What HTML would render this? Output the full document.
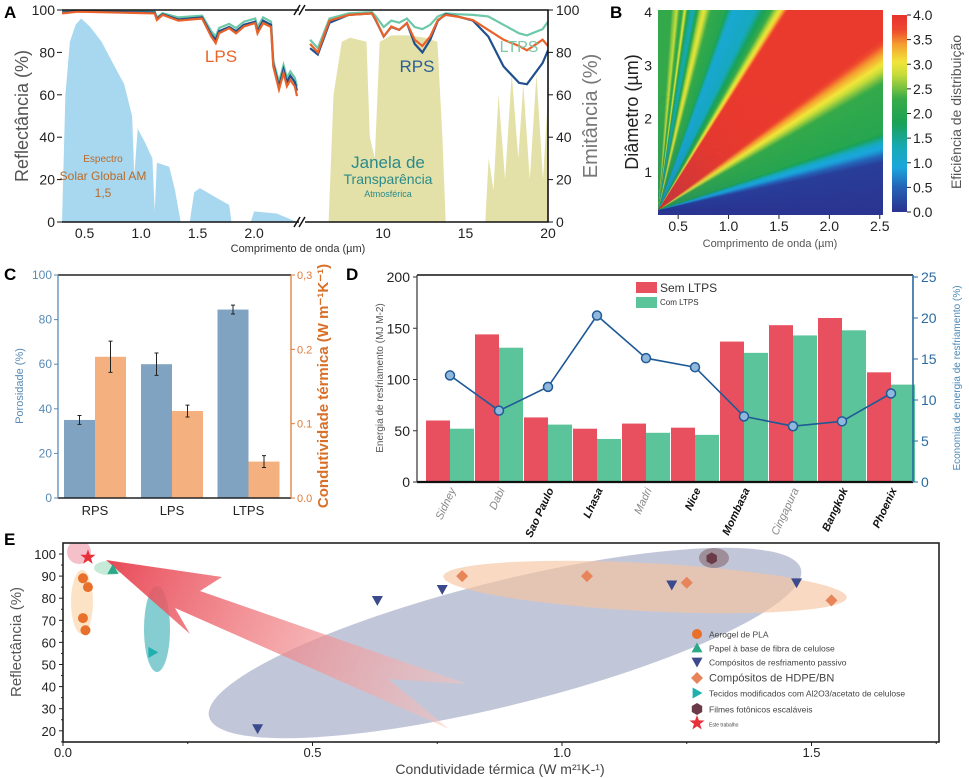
<!DOCTYPE html>
<html><head><meta charset="utf-8">
<style>
body{margin:0;background:#fff;}
#wrap{position:relative;width:969px;height:778px;overflow:hidden;font-family:"Liberation Sans",sans-serif;}
svg{position:absolute;left:0;top:0;}
canvas{position:absolute;}
</style></head>
<body>
<div id="wrap">
<canvas id="cbar" width="15" height="197" style="left:892px;top:15px"></canvas>
<svg id="s" width="969" height="778" xmlns="http://www.w3.org/2000/svg" font-family="Liberation Sans, sans-serif">
<defs>
<clipPath id="clipL"><rect x="62" y="8" width="237" height="216"/></clipPath>
<clipPath id="clipR"><rect x="305" y="8" width="243" height="216"/></clipPath>
<clipPath id="clipB"><rect x="658" y="10" width="225" height="205"/></clipPath>
<clipPath id="clipE"><rect x="63" y="543" width="876" height="199"/></clipPath>
<linearGradient id="arrowGrad" x1="106" y1="560" x2="460" y2="710" gradientUnits="userSpaceOnUse">
<stop offset="0" stop-color="#e8404f" stop-opacity="0.95"/><stop offset="1" stop-color="#f8c8c0" stop-opacity="0.5"/></linearGradient>
</defs>
<g id="gA"></g>
<g id="gB"></g>
<g id="gC"></g>
<g id="gD"></g>
<g id="gE"></g>
<text x="4" y="18" font-size="17" font-weight="bold">A</text>
<text x="610" y="18" font-size="17" font-weight="bold">B</text>
<text x="4" y="280" font-size="17" font-weight="bold">C</text>
<text x="346" y="280" font-size="17" font-weight="bold">D</text>
<text x="4" y="545" font-size="17" font-weight="bold">E</text>
</svg>
</div>
<script>
// ---------- Panel A data ----------
const wlL=[0.30,0.44,1.12,1.14,1.19,1.33,1.54,1.62,1.66,1.69,1.78,1.84,1.91,2.01,2.03,2.08,2.15,2.17,2.22,2.26,2.29,2.32,2.36,2.38];
const lpsL=[98.4,99.2,98.4,95.3,97.7,95,96,87.5,84.4,89,91.4,89,92.2,93.8,89,93.8,92,73.4,62.5,70.3,64,67,64,59.4];
const rpsL=[98.8,99.4,98.8,95.8,98,95.5,96.5,88.5,86,90,92,90,93,94.5,90,95,93,74.5,64,72,66,69,66,62];
const ltpsL=[99.3,99.7,99.2,96.5,98.5,96.5,97.3,90,87.5,91.5,93.5,91.5,94.5,96,92,96.5,94.5,76,66,74,68,71,68,64];
const wlR=[5.58,6.05,6.76,7.93,9.33,9.57,10.04,10.5,10.98,11.45,11.92,12.39,12.86,13.33,13.8,14.5,15.45,16.38,17.3,18.25,18.73,19.67,20];
const lpsR=[84,80,95,97.7,98.4,95.3,87.5,92.2,90.6,93.8,86,83,87.5,95.3,97.7,96.9,95.3,90.6,86,83,81,86,83];
const rpsR=[82,79,94,97.7,98.4,95,87.5,92,90.6,93.8,84,80,86,95,98,97,95,87.5,73.4,65.6,65,75,81];
const ltpsR=[86,82,96,98.4,99,97,92,95,94,96,92,91,93,97,98.4,98,97.7,97,93,89,88,91,94.5];
const solarWl=[0.30,0.33,0.37,0.42,0.47,0.55,0.65,0.75,0.85,0.92,0.94,0.97,1.03,1.10,1.12,1.14,1.25,1.30,1.35,1.43,1.47,1.52,1.65,1.78,1.80,1.97,2.00,2.20,2.38];
const solarVal=[0,60,85,93,96,92,85,75,65,50,22,44,38,30,5,28,26,15,0,0,14,16,12,8,0,0,5,4,0];
const atmWl=[6.7,7.0,7.5,8.0,8.5,9.0,9.2,9.5,9.8,10.5,11.5,12.5,13.3,13.6,13.8,16.2,16.4,16.7,17.0,17.4,17.8,18.2,18.5,18.9,19.3,19.7,20];
const atmVal=[0,60,85,87,86,85,40,30,85,88,88,87,85,40,0,0,30,15,60,20,70,30,65,20,70,20,60];
const tickA=[0,20,40,60,80,100];
const xTickL=[0.5,1.0,1.5,2.0];
const xTickR=[10,15,20];
// ---------- Panel B data ----------
const ratioBreaks=[0,0.4,0.5,0.55,0.65,1.05,1.22,1.45,2.9,3.1,3.4,3.9,5.0,5.6,7.0,8.2,9.2,10.5,12,14,16,20,30];
const effValues=[0,0.1,0.8,1.0,2.0,2.2,3.0,3.9,3.9,3.0,2.1,1.2,1.0,2.0,2.2,3.0,2.5,1.3,1.5,3.0,2.0,2.8,2.2];
const fanOriginWl=0.3;
const fanOriginD=0.28;
const cmapV=[0,0.5,0.9,1.3,1.8,2.3,2.8,3.05,3.4,3.7,4.0];
const cmapC=["#2a3591","#2563b8","#1aa7dc","#17a9b8","#1aa256","#3aab48","#c8dc3a","#f1e53a","#f5a030","#ee4a2e","#e8322e"];
const bXTicks=[0.5,1.0,1.5,2.0,2.5];
const bYTicks=[1,2,3,4];
const cbTicks=[0.0,0.5,1.0,1.5,2.0,2.5,3.0,3.5,4.0];
// ---------- Panel C data ----------
const cCats=["RPS","LPS","LTPS"];
const porosity=[35,60,84.5];
const porosityErr=[2,5,2];
const conductivity=[0.19,0.117,0.049];
const conductivityErr=[0.021,0.008,0.008];
// ---------- Panel D data ----------
const cities=["Sidney","Dabi","Sao Paulo","Lhasa","Madri","Nice","Mombasa","Cingapura","Bangkok","Phoenix"];
const cityBold=[false,false,true,true,false,true,true,false,true,true];
const semLTPS=[60,144,63,52,57,53,137,153,160,107];
const comLTPS=[52,131,56,42,48,46,126,143,148,95];
const savings=[13,8.7,11.6,20.3,15.1,14,8,6.8,7.4,10.8];
const dLeftTicks=[0,50,100,150,200];
const dRightTicks=[0,5,10,15,20,25];
// ---------- Panel E data ----------
const aerogelX=[0.04,0.05,0.04,0.045];
const aerogelY=[89,85,71,65.5];
const papelX=[0.1];
const papelY=[93];
const passivoX=[0.39,0.63,0.76,1.22,1.47];
const passivoY=[21,79,84,86,87];
const hdpeX=[0.8,1.05,1.25,1.54];
const hdpeY=[90,90,87,79];
const tecidosX=[0.18];
const tecidosY=[55.5];
const filmesX=[1.3];
const filmesY=[98];
const esteX=[0.05];
const esteY=[98.5];
const eXTicks=[0.0,0.5,1.0,1.5];
const eYTicks=[20,30,40,50,60,70,80,90,100];

const NS='http://www.w3.org/2000/svg';
const svg=document.getElementById('s');
function E(t,a,p){const e=document.createElementNS(NS,t);for(const k in a)e.setAttribute(k,a[k]);(p||svg).appendChild(e);return e;}
function T(x,y,txt,a,p){const e=E('text',Object.assign({x:x,y:y},a),p);e.textContent=txt;return e;}
function pathOf(xs,ys,fx,fy){return xs.map((v,i)=>(i?'L':'M')+fx(v).toFixed(1)+' '+fy(ys[i]).toFixed(1)).join(' ');}
function areaOf(xs,ys,fx,fy){return 'M'+fx(xs[0]).toFixed(1)+' '+fy(0)+' '+xs.map((v,i)=>'L'+fx(v).toFixed(1)+' '+fy(ys[i]).toFixed(1)).join(' ')+' L'+fx(xs[xs.length-1]).toFixed(1)+' '+fy(0)+' Z';}
function interp(xs,ys,v){if(v<=xs[0])return ys[0];for(let i=1;i<xs.length;i++){if(v<=xs[i]){const t=(v-xs[i-1])/(xs[i]-xs[i-1]);return ys[i-1]+t*(ys[i]-ys[i-1]);}}return ys[ys.length-1];}

// ===== Panel A =====
const gA=document.getElementById('gA');
const xL=l=>62+(l-0.3)*113;
const xR=l=>383+(l-10)*16.5;
const yA=v=>222-v*2.12;
let el;
el=E('path',{d:areaOf(solarWl,solarVal,xL,yA),fill:'#9fd4ee',opacity:0.9,'clip-path':'url(#clipL)'},gA);


el=E('path',{d:areaOf(atmWl,atmVal,xR,yA),fill:'#dedc98',opacity:0.85,'clip-path':'url(#clipR)'},gA);


const seriesA=[['ltps',ltpsL,ltpsR,'#6cc8a8'],['rps',rpsL,rpsR,'#1f4f8c'],['lps',lpsL,lpsR,'#e8622a']];
seriesA.forEach(s=>{
  el=E('path',{d:pathOf(wlL,s[1],xL,yA),fill:'none',stroke:s[3],'stroke-width':2.2,'clip-path':'url(#clipL)'},gA);
  
  
  el=E('path',{d:pathOf(wlR,s[2],xR,yA),fill:'none',stroke:s[3],'stroke-width':2.2,'clip-path':'url(#clipR)'},gA);
  
  
});
el=E('path',{d:'M62 10 H299 M305 10 H548 V222 H305 M299 222 H62 Z',fill:'none',stroke:'#111','stroke-width':1.6},gA);


el=E('path',{d:'M294 15 L300 5 M299 15 L305 5 M294 227 L300 217 M299 227 L305 217',stroke:'#111','stroke-width':1.5},gA);


tickA.forEach(v=>{
  el=T(55,yA(v)+5,String(v),{'font-size':14,'text-anchor':'end',fill:'#222'},gA);
  
  
  el=T(556,yA(v)+5,String(v),{'font-size':14,fill:'#222'},gA);
  
  
  E('line',{x1:548,x2:553,y1:yA(v),y2:yA(v),stroke:'#111'},gA);
  E('line',{x1:57,x2:62,y1:yA(v),y2:yA(v),stroke:'#111'},gA);
});
xTickL.forEach(v=>{el=T(xL(v),238,v.toFixed(1),{'font-size':14,'text-anchor':'middle',fill:'#222'},gA);
  
  });
xTickR.forEach(v=>{el=T(xR(v),238,String(v),{'font-size':14,'text-anchor':'middle',fill:'#222'},gA);
  
  });
[['LPS',221,62,'#e8652a',17,'label-lps'],['RPS',417,72,'#2a5e96',17,'label-rps'],['LTPS',519,52,'#7cc8a8',16,'label-ltps']].forEach(a=>{
  el=T(a[1],a[2],a[0],{'font-size':a[4],'text-anchor':'middle',fill:a[3]},gA);
  
  });
[['Espectro',103,162,10],['Solar Global AM',103,180,12],['1,5',103,197,12]].forEach(a=>{
  el=T(a[1],a[2],a[0],{'font-size':a[3],'text-anchor':'middle',fill:'#b86a2a'},gA);
  
  });
[['Janela de',388,168,17],['Transparência',388,184,14],['Atmosférica',388,197,9]].forEach(a=>{
  el=T(a[1],a[2],a[0],{'font-size':a[3],'text-anchor':'middle',fill:'#2a8a8a'},gA);
  
  });
el=T(298,252,'Comprimento de onda (µm)',{'font-size':11,'text-anchor':'middle',fill:'#333'},gA);


el=T(0,0,'Reflectância (%)',{'font-size':18,'text-anchor':'middle',fill:'#555',transform:'translate(28,116) rotate(-90)'},gA);


el=T(0,0,'Emitância (%)',{'font-size':20,'text-anchor':'middle',fill:'#777',transform:'translate(597,116) rotate(-90)'},gA);



// ===== Panel B =====
const gB=document.getElementById('gB');
function hex(c){return [parseInt(c.slice(1,3),16),parseInt(c.slice(3,5),16),parseInt(c.slice(5,7),16)];}
const cmapRGB=cmapC.map(hex);
function cmap(v){for(let i=1;i<cmapV.length;i++){if(v<=cmapV[i]||i==cmapV.length-1){const t=Math.max(0,Math.min(1,(v-cmapV[i-1])/(cmapV[i]-cmapV[i-1])));return cmapRGB[i-1].map((c,k)=>Math.round(c+t*(cmapRGB[i][k]-c)));}}}
const bx=l=>658+(l-0.3)*100.8;
const by=d=>12+(4-d)*53.3;
const heatG=E('g',{'clip-path':'url(#clipB)'},gB);


E('rect',{x:658,y:10,width:225,height:205,fill:cmapC[0]},heatG);
(function(){
  const ox=bx(fanOriginWl), oy=by(fanOriginD), L=500, N=360;
  const sx=100.8, sy=53.3;
  for(let k=0;k<N;k++){
    const a1=(k/N)*Math.PI/2, a2=((k+1.6)/N)*Math.PI/2, am=((k+0.5)/N)*Math.PI/2;
    const r=Math.tan(am)*sx/sy;
    const col=cmap(interp(ratioBreaks,effValues,r));
    const p=`${ox},${oy} ${(ox+L*Math.cos(a1)).toFixed(2)},${(oy-L*Math.sin(a1)).toFixed(2)} ${(ox+L*Math.cos(a2)).toFixed(2)},${(oy-L*Math.sin(a2)).toFixed(2)}`;
    E('polygon',{points:p,fill:`rgb(${col[0]},${col[1]},${col[2]})`},heatG);
  }
  const cb=document.getElementById('cbar').getContext('2d');const im2=cb.createImageData(15,197);
  for(let py=0;py<197;py++){const col=cmap(4*(1-py/196));for(let px=0;px<15;px++){const o=(py*15+px)*4;im2.data[o]=col[0];im2.data[o+1]=col[1];im2.data[o+2]=col[2];im2.data[o+3]=255;}}
  cb.putImageData(im2,0,0);
})();
bXTicks.forEach(v=>{el=T(bx(v),231,v.toFixed(1),{'font-size':14,'text-anchor':'middle',fill:'#222'},gB);
  
  
  E('line',{x1:bx(v),x2:bx(v),y1:215,y2:219,stroke:'#222'},gB);});
bYTicks.forEach(v=>{el=T(652,by(v)+5,String(v),{'font-size':14,'text-anchor':'end',fill:'#222'},gB);
  
  });
cbTicks.forEach(v=>{const y=212-v/4*197;E('line',{x1:907,x2:911,y1:y,y2:y,stroke:'#222'},gB);
  el=T(913,y+5,v.toFixed(1),{'font-size':14,fill:'#222'},gB);
  
  });
el=T(770,247,'Comprimento de onda (µm)',{'font-size':11,'text-anchor':'middle',fill:'#555'},gB);


el=T(0,0,'Diâmetro (µm)',{'font-size':18,'text-anchor':'middle',fill:'#222',transform:'translate(638,112) rotate(-90)'},gB);


el=T(0,0,'Eficiência de distribuição',{'font-size':14,'text-anchor':'middle',fill:'#555',transform:'translate(961,112) rotate(-90)'},gB);



// ===== Panel C =====
const gC=document.getElementById('gC');
const yC=v=>498-v*2.23;
const yC2=v=>498-v/0.3*223;
const cx0=[64,141,217.5];
cCats.forEach((c,i)=>{
  el=E('rect',{x:cx0[i],y:yC(porosity[i]),width:31,height:498-yC(porosity[i]),fill:'#7fa3c0'},gC);
  
  
  el=E('rect',{x:cx0[i]+31,y:yC2(conductivity[i]),width:31,height:498-yC2(conductivity[i]),fill:'#f4b07f'},gC);
  
  
  const m1=cx0[i]+15.5,m2=cx0[i]+46.5;
  el=E('path',{d:`M${m1} ${yC(porosity[i]-porosityErr[i])} V${yC(porosity[i]+porosityErr[i])} M${m1-2} ${yC(porosity[i]-porosityErr[i])} h4 M${m1-2} ${yC(porosity[i]+porosityErr[i])} h4`,stroke:'#222','stroke-width':1},gC);
  
  
  el=E('path',{d:`M${m2} ${yC2(conductivity[i]-conductivityErr[i])} V${yC2(conductivity[i]+conductivityErr[i])} M${m2-2} ${yC2(conductivity[i]-conductivityErr[i])} h4 M${m2-2} ${yC2(conductivity[i]+conductivityErr[i])} h4`,stroke:'#222','stroke-width':1},gC);
  
  
  el=T(cx0[i]+31,515,c,{'font-size':13,'text-anchor':'middle',fill:'#222'},gC);
  
  
});
E('line',{x1:58,x2:291,y1:275,y2:275,stroke:'#222','stroke-width':1.6},gC);
E('line',{x1:58,x2:291,y1:498,y2:498,stroke:'#222','stroke-width':1.6},gC);
E('line',{x1:58,x2:58,y1:275,y2:498,stroke:'#5a8ab5','stroke-width':1.3},gC);
E('line',{x1:291,x2:291,y1:275,y2:498,stroke:'#e07b39','stroke-width':1.3},gC);
[0,20,40,60,80,100].forEach(v=>{E('line',{x1:54,x2:58,y1:yC(v),y2:yC(v),stroke:'#5a8ab5'},gC);
  el=T(52,yC(v)+4,String(v),{'font-size':12,'text-anchor':'end',fill:'#5a8ab5'},gC);
  
  });
[[0,'0.0'],[0.1,'0.1'],[0.2,'0.2'],[0.3,'0,3']].forEach(a=>{E('line',{x1:291,x2:295,y1:yC2(a[0]),y2:yC2(a[0]),stroke:'#e07b39'},gC);
  el=T(297,yC2(a[0])+4,a[1],{'font-size':11,fill:'#e07b39'},gC);
  
  });
el=T(0,0,'Porosidade (%)',{'font-size':11,'text-anchor':'middle',fill:'#5a8ab5',transform:'translate(23,386) rotate(-90)'},gC);


el=T(0,0,'Condutividade térmica (W m⁻¹K⁻¹)',{'font-size':15,'font-weight':'bold','text-anchor':'middle',fill:'#d8702a',transform:'translate(328,386) rotate(-90)'},gC);



// ===== Panel D =====
const gD=document.getElementById('gD');
const yD=v=>482-v*1.025;
const yD2=v=>482-v*8.2;
const dx=i=>426+i*49;
cities.forEach((c,i)=>{
  el=E('rect',{x:dx(i),y:yD(semLTPS[i]),width:24,height:482-yD(semLTPS[i]),fill:'#e8505f'},gD);
  
  
  el=E('rect',{x:dx(i)+24,y:yD(comLTPS[i]),width:24,height:482-yD(comLTPS[i]),fill:'#5cc49a'},gD);
  
  
  el=T(0,0,c,{'font-size':11,'font-style':'italic','font-weight':cityBold[i]?'bold':'normal','text-anchor':'end',fill:cityBold[i]?'#111':'#888',transform:`translate(${dx(i)+30},490) rotate(-65)`},gD);
  
  
});
el=E('path',{d:pathOf(cities.map((c,i)=>i),savings,i=>dx(i)+24,yD2),fill:'none',stroke:'#1f5a96','stroke-width':1.6},gD);


savings.forEach((v,i)=>{el=E('circle',{cx:dx(i)+24,cy:yD2(v),r:4.5,fill:'#8fb8dc',stroke:'#1f5a96','stroke-width':1.5},gD);
  
  });
E('line',{x1:417,x2:913,y1:275,y2:275,stroke:'#111','stroke-width':1.6},gD);
E('line',{x1:417,x2:913,y1:482,y2:482,stroke:'#111','stroke-width':2.2},gD);
E('line',{x1:417,x2:417,y1:275,y2:482,stroke:'#333','stroke-width':1.2},gD);
E('line',{x1:913,x2:913,y1:275,y2:482,stroke:'#2a6aa0','stroke-width':1.6},gD);
dLeftTicks.forEach(v=>{E('line',{x1:413,x2:417,y1:yD(v),y2:yD(v),stroke:'#333'},gD);
  el=T(410,yD(v)+5,String(v),{'font-size':14,'text-anchor':'end',fill:'#222'},gD);
  
  });
dRightTicks.forEach(v=>{E('line',{x1:913,x2:918,y1:yD2(v),y2:yD2(v),stroke:'#2a6aa0'},gD);
  el=T(921,yD2(v)+5,String(v),{'font-size':14,fill:'#2a6aa0'},gD);
  
  });
el=E('rect',{x:636,y:282,width:21,height:11,fill:'#e8505f'},gD);


el=E('rect',{x:636,y:297,width:21,height:11,fill:'#5cc49a'},gD);


el=T(660,292,'Sem LTPS',{'font-size':12,fill:'#333'},gD);


el=T(660,305,'Com LTPS',{'font-size':8,fill:'#333'},gD);


el=T(0,0,'Energia de resfriamento (MJ M-2)',{'font-size':10,'text-anchor':'middle',fill:'#555',transform:'translate(383,378) rotate(-90)'},gD);


el=T(0,0,'Economia de energia de resfriamento (%)',{'font-size':10,'text-anchor':'middle',fill:'#4a8ab8',transform:'translate(960,378) rotate(-90)'},gD);



// ===== Panel E =====
const gE=document.getElementById('gE');
const xE=v=>63+v*499;
const yE=v=>554+(100-v)*2.21;
const gEc=E('g',{'clip-path':'url(#clipE)'},gE);
[[505,643,305,62,-14,'#9aa0c0',0.6,'ellipse-passivo'],[645,587,202,24,3,'#f6c4a0',0.65,'ellipse-hdpe'],[82,602,11,32,0,'#fbdcb8',0.8,'ellipse-aerogel'],
 [157,629,13,43,0,'#5cbcc0',0.75,'ellipse-tecidos'],[109,568,15,7,0,'#bfe8d4',0.9,'ellipse-papel'],[79,552,12,12,0,'#f2b0bc',0.8,'ellipse-este'],[714,558,15,10,0,'#806066',0.55,'ellipse-filmes']].forEach(a=>{
  el=E('ellipse',{cx:a[0],cy:a[1],rx:a[2],ry:a[3],fill:a[5],opacity:a[6],transform:`rotate(${a[4]} ${a[0]} ${a[1]})`},gEc);
  
  });
el=E('polygon',{points:'106,560 222,577 200,591 467,684 388,679 449,729 175,608 190,634',fill:'url(#arrowGrad)'},gEc);


function marker(kind,x,y,p){let e;const s=5.5;
  if(kind==='circle')e=E('circle',{cx:x,cy:y,r:5,fill:'#e8702a'},p);
  else if(kind==='up')e=E('polygon',{points:`${x},${y-s} ${x+s},${y+s*0.8} ${x-s},${y+s*0.8}`,fill:'#2aa888'},p);
  else if(kind==='down')e=E('polygon',{points:`${x-s},${y-s*0.8} ${x+s},${y-s*0.8} ${x},${y+s}`,fill:'#3a4a8c'},p);
  else if(kind==='diamond')e=E('polygon',{points:`${x},${y-6} ${x+6},${y} ${x},${y+6} ${x-6},${y}`,fill:'#e8845a'},p);
  else if(kind==='right')e=E('polygon',{points:`${x-s*0.8},${y-s} ${x+s},${y} ${x-s*0.8},${y+s}`,fill:'#20b0b0'},p);
  else if(kind==='hex')e=E('polygon',{points:[0,1,2,3,4,5].map(k=>(x+6*Math.cos(k*Math.PI/3+Math.PI/6)).toFixed(1)+','+(y+6*Math.sin(k*Math.PI/3+Math.PI/6)).toFixed(1)).join(' '),fill:'#6a3a48'},p);
  else {const pts=[];for(let k=0;k<10;k++){const r=k%2?3.2:8;const a=-Math.PI/2+k*Math.PI/5;pts.push((x+r*Math.cos(a)).toFixed(1)+','+(y+r*Math.sin(a)).toFixed(1));}e=E('polygon',{points:pts.join(' '),fill:'#e8303a'},p);}
  return e;}
const eSeries=[['circle',aerogelX,aerogelY,'Aerogel de PLA',8.5],['up',papelX,papelY,'Papel à base de fibra de celulose',8.5],['down',passivoX,passivoY,'Compósitos de resfriamento passivo',8.5],
 ['diamond',hdpeX,hdpeY,'Compósitos de HDPE/BN',11],['right',tecidosX,tecidosY,'Tecidos modificados com Al2O3/acetato de celulose',8.5],['hex',filmesX,filmesY,'Filmes fotônicos escaláveis',8.5],['star',esteX,esteY,'Este trabalho',5]];
const legY=[634,648,662,678,693,709,723];
eSeries.forEach((s,k)=>{
  s[1].forEach((xv,i)=>{el=marker(s[0],xE(xv),yE(s[2][i]),gE);
    
    });
  el=marker(s[0],697,legY[k],gE);
  
  
  el=T(709,legY[k]+3.5,s[3],{'font-size':s[4],fill:'#444'},gE);
  
  
});
el=E('rect',{x:63,y:543,width:876,height:199,fill:'none',stroke:'#222','stroke-width':1.6},gE);


eYTicks.forEach(v=>{E('line',{x1:59,x2:63,y1:yE(v),y2:yE(v),stroke:'#222'},gE);E('line',{x1:61,x2:63,y1:yE(v-5),y2:yE(v-5),stroke:'#222'},gE);
  el=T(56,yE(v)+5,String(v),{'font-size':13,'text-anchor':'end',fill:'#222'},gE);
  
  });
eXTicks.forEach(v=>{E('line',{x1:xE(v),x2:xE(v),y1:742,y2:746,stroke:'#222'},gE);E('line',{x1:xE(v+0.25),x2:xE(v+0.25),y1:742,y2:744,stroke:'#222'},gE);
  el=T(xE(v),757,v.toFixed(1),{'font-size':13,'text-anchor':'middle',fill:'#222'},gE);
  
  });
el=T(500,774,'Condutividade térmica (W m²¹K-¹)',{'font-size':14,'text-anchor':'middle',fill:'#444'},gE);


el=T(0,0,'Reflectância (%)',{'font-size':15,'text-anchor':'middle',fill:'#555',transform:'translate(21,642) rotate(-90)'},gE);


</script>
</body></html>
